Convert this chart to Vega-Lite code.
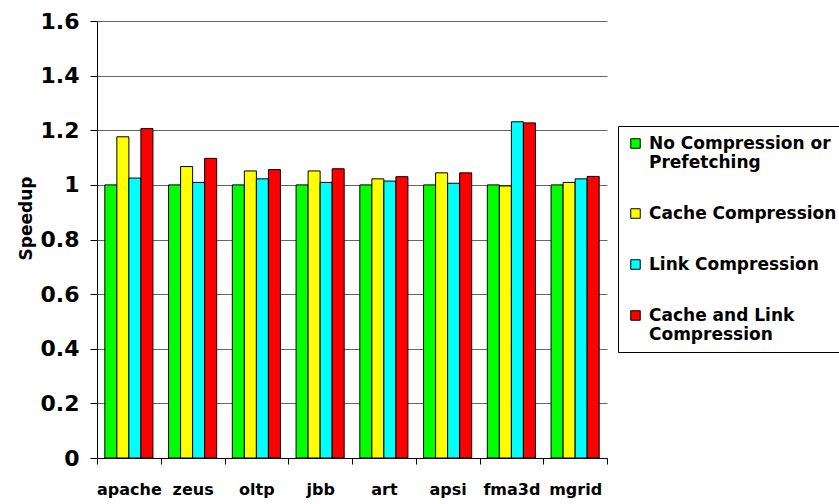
{
  "$schema": "https://vega.github.io/schema/vega-lite/v6.json",
  "width": 510,
  "height": 437,
  "autosize": "none",
  "padding": {"left": 97, "top": 21, "right": 232, "bottom": 46},
  "background": "white",
  "config": {
    "view": {"stroke": null},
    "font": "DejaVu Sans"
  },
  "data": {
    "values": [
      {"bench": "apache", "series": "No Compression or Prefetching", "speedup": 1.0},
      {"bench": "apache", "series": "Cache Compression", "speedup": 1.176},
      {"bench": "apache", "series": "Link Compression", "speedup": 1.025},
      {"bench": "apache", "series": "Cache and Link Compression", "speedup": 1.206},
      {"bench": "zeus", "series": "No Compression or Prefetching", "speedup": 1.0},
      {"bench": "zeus", "series": "Cache Compression", "speedup": 1.067},
      {"bench": "zeus", "series": "Link Compression", "speedup": 1.009},
      {"bench": "zeus", "series": "Cache and Link Compression", "speedup": 1.097},
      {"bench": "oltp", "series": "No Compression or Prefetching", "speedup": 1.0},
      {"bench": "oltp", "series": "Cache Compression", "speedup": 1.051},
      {"bench": "oltp", "series": "Link Compression", "speedup": 1.022},
      {"bench": "oltp", "series": "Cache and Link Compression", "speedup": 1.056},
      {"bench": "jbb", "series": "No Compression or Prefetching", "speedup": 1.0},
      {"bench": "jbb", "series": "Cache Compression", "speedup": 1.051},
      {"bench": "jbb", "series": "Link Compression", "speedup": 1.009},
      {"bench": "jbb", "series": "Cache and Link Compression", "speedup": 1.059},
      {"bench": "art", "series": "No Compression or Prefetching", "speedup": 1.0},
      {"bench": "art", "series": "Cache Compression", "speedup": 1.022},
      {"bench": "art", "series": "Link Compression", "speedup": 1.014},
      {"bench": "art", "series": "Cache and Link Compression", "speedup": 1.03},
      {"bench": "apsi", "series": "No Compression or Prefetching", "speedup": 1.0},
      {"bench": "apsi", "series": "Cache Compression", "speedup": 1.044},
      {"bench": "apsi", "series": "Link Compression", "speedup": 1.006},
      {"bench": "apsi", "series": "Cache and Link Compression", "speedup": 1.044},
      {"bench": "fma3d", "series": "No Compression or Prefetching", "speedup": 1.0},
      {"bench": "fma3d", "series": "Cache Compression", "speedup": 0.996},
      {"bench": "fma3d", "series": "Link Compression", "speedup": 1.231},
      {"bench": "fma3d", "series": "Cache and Link Compression", "speedup": 1.227},
      {"bench": "mgrid", "series": "No Compression or Prefetching", "speedup": 1.0},
      {"bench": "mgrid", "series": "Cache Compression", "speedup": 1.009},
      {"bench": "mgrid", "series": "Link Compression", "speedup": 1.022},
      {"bench": "mgrid", "series": "Cache and Link Compression", "speedup": 1.031}
    ]
  },
  "mark": {"type": "bar", "stroke": "black", "strokeWidth": 1},
  "encoding": {
    "x": {
      "field": "bench",
      "type": "nominal",
      "sort": null,
      "scale": {"paddingInner": 0, "paddingOuter": 0},
      "axis": {
        "title": null,
        "labelAngle": 0,
        "labelFont": "DejaVu Sans",
        "labelFontWeight": "bold",
        "labelFontSize": 16,
        "labelColor": "black",
        "labelPadding": 17,
        "tickBand": "extent",
        "tickSize": 6,
        "tickColor": "black",
        "domainColor": "black",
        "grid": false
      }
    },
    "xOffset": {
      "field": "series",
      "type": "nominal",
      "scale": {
        "domain": ["No Compression or Prefetching", "Cache Compression", "Link Compression", "Cache and Link Compression"],
        "paddingInner": 0,
        "paddingOuter": 0.65
      }
    },
    "y": {
      "field": "speedup",
      "type": "quantitative",
      "scale": {"domain": [0, 1.6], "nice": false},
      "axis": {
        "title": "Speedup",
        "titleFont": "DejaVu Sans",
        "titleFontWeight": "bold",
        "titleFontSize": 17,
        "titleColor": "black",
        "titlePadding": 5,
        "titleY": 197,
        "titleAlign": "center",
        "values": [0, 0.2, 0.4, 0.6, 0.8, 1, 1.2, 1.4, 1.6],
        "format": "~g",
        "labelFont": "DejaVu Sans",
        "labelFontWeight": "bold",
        "labelFontSize": 22,
        "labelColor": "black",
        "labelPadding": 11,
        "tickSize": 7,
        "tickColor": "black",
        "domainColor": "black",
        "grid": true,
        "gridColor": "#666666",
        "gridWidth": 1,
        "gridOpacity": 1
      }
    },
    "color": {
      "field": "series",
      "type": "nominal",
      "scale": {
        "domain": ["No Compression or Prefetching", "Cache Compression", "Link Compression", "Cache and Link Compression"],
        "range": ["#00ff00", "#ffff00", "#00ffff", "#ff0000"]
      },
      "legend": {
        "title": null,
        "orient": "none",
        "legendX": 521,
        "legendY": 105,
        "symbolType": "square",
        "symbolSize": 90,
        "symbolStrokeColor": "black",
        "symbolStrokeWidth": 1,
        "labelFont": "DejaVu Sans",
        "labelFontWeight": "bold",
        "labelFontSize": 17,
        "labelColor": "black",
        "labelLimit": 300,
        "labelOffset": 5,
        "labelExpr": "datum.label == 'No Compression or Prefetching' ? ['No Compression or', 'Prefetching'] : datum.label == 'Cache and Link Compression' ? ['Cache and Link', 'Compression'] : datum.label",
        "rowPadding": 33,
        "padding": 9,
        "strokeColor": "black",
        "fillColor": "white"
      }
    }
  }
}
